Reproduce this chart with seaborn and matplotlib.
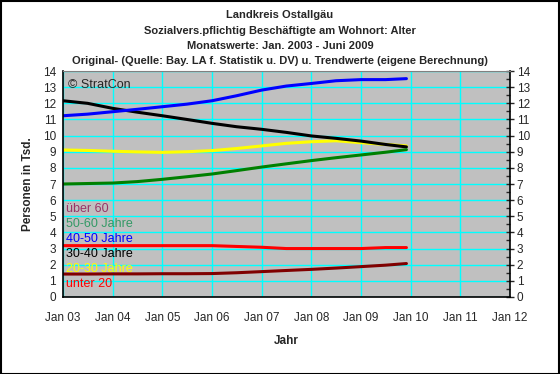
import pandas as pd
import numpy as np
import matplotlib
matplotlib.use("Agg")
import matplotlib.pyplot as plt
import matplotlib.dates as mdates
import seaborn as sb

dates = ["2003-01-01", "2003-07-01", "2004-01-01", "2004-07-01", "2005-01-01",
         "2005-07-01", "2006-01-01", "2006-07-01", "2007-01-01", "2007-07-01",
         "2008-01-01", "2008-07-01", "2009-01-01", "2009-07-01", "2009-12-01"]

unter20 = [3.18, 3.18, 3.18, 3.18, 3.18, 3.18, 3.18, 3.13, 3.08, 3.0, 3.0, 3.0, 3.0, 3.06, 3.06]
j20_30 = [9.11, 9.08, 9.03, 8.99, 8.96, 9.0, 9.07, 9.2, 9.36, 9.52, 9.62, 9.68, 9.56, 9.45, 9.36]
j30_40 = [12.16, 12.0, 11.69, 11.45, 11.23, 11.0, 10.76, 10.55, 10.39, 10.2, 9.98, 9.83, 9.66, 9.45, 9.3]
j40_50 = [11.23, 11.33, 11.48, 11.63, 11.79, 11.95, 12.16, 12.47, 12.82, 13.07, 13.23, 13.4, 13.47, 13.47, 13.53]
j50_60 = [7.0, 7.03, 7.06, 7.15, 7.29, 7.45, 7.62, 7.83, 8.05, 8.25, 8.45, 8.63, 8.8, 8.97, 9.13]
ueber60 = [1.42, 1.42, 1.43, 1.43, 1.44, 1.44, 1.45, 1.5, 1.57, 1.64, 1.71, 1.79, 1.88, 1.97, 2.07]

groups = ["unter 20", "20-30 Jahre", "30-40 Jahre", "40-50 Jahre", "50-60 Jahre", "über 60"]
line_colors = ["#FF0000", "#FFFF00", "#000000", "#0000FF", "#008000", "#800000"]
label_colors = ["#FF0000", "#FFFF00", "#000000", "#0000FF", "#339966", "#993366"]

sb.set_style("white")
plt.rcParams['font.family'] = ['Liberation Sans', 'DejaVu Sans']

df = pd.DataFrame({
    "date": pd.to_datetime(dates * 6),
    "value": unter20 + j20_30 + j30_40 + j40_50 + j50_60 + ueber60,
    "group": np.repeat(groups, len(dates)),
})

fig = plt.figure(figsize=(5.6, 3.74), dpi=100)
ax = fig.add_axes([0.1125, 0.206, 0.798, 0.604])
ax.set_facecolor("#C0C0C0")

sb.lineplot(data=df, x="date", y="value", hue="group", palette=dict(zip(groups, line_colors)),
            linewidth=2.2, legend=False, ax=ax)

ax.set_xlim(pd.Timestamp("2003-01-01"), pd.Timestamp("2012-01-01"))
ax.set_ylim(0, 14)
ax.set_yticks(range(0, 15))
ax.yaxis.set_minor_locator(matplotlib.ticker.MultipleLocator(0.5))
ax.xaxis.set_major_locator(mdates.YearLocator())
ax.xaxis.set_minor_locator(mdates.MonthLocator())
ax.xaxis.set_major_formatter(mdates.DateFormatter("%b %y"))
ax.grid(True, which="major", color="#00FFFF", linewidth=1)
ax.tick_params(which="major", direction="inout", length=6, width=1, labelsize=8.5, pad=2)
ax.tick_params(which="minor", direction="in", length=3, width=1)
ax.tick_params(axis="x", pad=8)
ax.tick_params(axis="y", right=True, labelright=True)
ax.tick_params(which="minor", axis="y", right=True)
for s in ["left", "right", "bottom"]:
    ax.spines[s].set_color("black")
    ax.spines[s].set_linewidth(1.2)
ax.spines["top"].set_color("#808080")

ax.set_xlabel("Jahr", fontsize=8.5, fontweight="bold", labelpad=8)
ax.set_ylabel("Personen in Tsd.", fontsize=8.5, fontweight="bold", labelpad=6)

ax.text(0.012, 0.965, "© StratCon", transform=ax.transAxes, fontsize=9, va="top")

label_y = [0.8, 1.73, 2.66, 3.59, 4.52, 5.45]
for name, c, yv in zip(groups, label_colors, label_y):
    ax.text(pd.Timestamp("2003-01-20"), yv, name, color=c, fontsize=9, va="center")

titles = ["Landkreis Ostallgäu",
          "Sozialvers.pflichtig Beschäftigte am Wohnort: Alter",
          "Monatswerte: Jan. 2003 - Juni 2009",
          "Original- (Quelle: Bay. LA f. Statistik u. DV) u. Trendwerte (eigene Berechnung)"]
for i, t in enumerate(titles):
    fig.text(0.5, 1 - (15 + i * 15.5) / 374, t, ha="center", va="center", fontsize=8, fontweight="bold")

fig.patches.append(plt.Rectangle((0.001, 0.001), 0.997, 0.997, transform=fig.transFigure,
                                 fill=False, edgecolor="black", linewidth=1.5))

fig.savefig("out.png", dpi=100)
